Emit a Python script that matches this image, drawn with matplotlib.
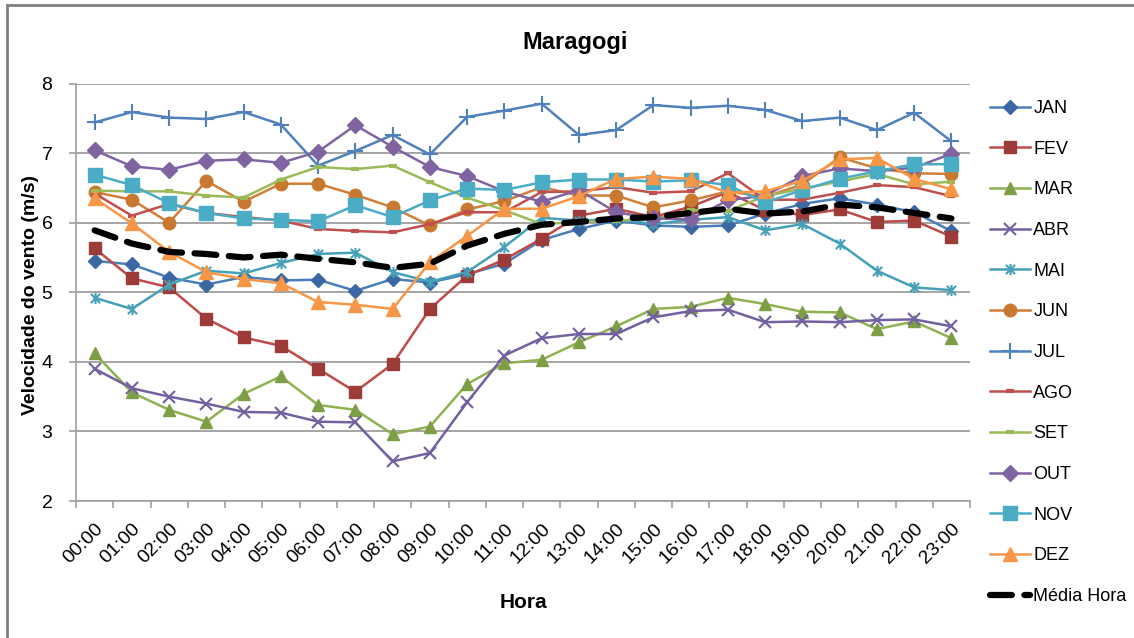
import matplotlib
matplotlib.use("Agg")
import matplotlib.pyplot as plt
from matplotlib.path import Path
from matplotlib.patches import Rectangle
from matplotlib import font_manager

hours = ["00:00", "01:00", "02:00", "03:00", "04:00", "05:00", "06:00", "07:00",
         "08:00", "09:00", "10:00", "11:00", "12:00", "13:00", "14:00", "15:00",
         "16:00", "17:00", "18:00", "19:00", "20:00", "21:00", "22:00", "23:00"]

jan = [5.45, 5.40, 5.21, 5.11, 5.22, 5.17, 5.18, 5.02, 5.19, 5.14, 5.26, 5.41,
       5.75, 5.91, 6.03, 5.96, 5.94, 5.96, 6.13, 6.27, 6.35, 6.26, 6.15, 5.88]
fev = [5.63, 5.20, 5.07, 4.62, 4.35, 4.23, 3.90, 3.57, 3.97, 4.76, 5.24, 5.47,
       5.77, 6.10, 6.20, 6.08, 6.23, 6.44, 6.18, 6.11, 6.19, 6.01, 6.03, 5.80]
mar = [4.12, 3.56, 3.31, 3.14, 3.54, 3.79, 3.38, 3.31, 2.96, 3.07, 3.68, 3.98,
       4.03, 4.28, 4.51, 4.76, 4.79, 4.92, 4.83, 4.72, 4.71, 4.47, 4.58, 4.34]
abr = [3.90, 3.62, 3.50, 3.40, 3.28, 3.27, 3.14, 3.13, 2.57, 2.69, 3.42, 4.09,
       4.34, 4.40, 4.40, 4.64, 4.73, 4.75, 4.57, 4.58, 4.57, 4.60, 4.61, 4.51]
mai = [4.92, 4.76, 5.11, 5.31, 5.27, 5.42, 5.55, 5.57, 5.29, 5.15, 5.29, 5.65,
       6.07, 6.03, 6.05, 5.98, 6.04, 6.08, 5.89, 5.98, 5.70, 5.31, 5.07, 5.03]
jun = [6.44, 6.33, 6.00, 6.60, 6.30, 6.56, 6.56, 6.40, 6.22, 5.96, 6.19, 6.31,
       6.51, 6.39, 6.39, 6.22, 6.32, 6.45, 6.37, 6.55, 6.94, 6.78, 6.71, 6.70]
jul = [7.44, 7.59, 7.51, 7.49, 7.59, 7.41, 6.82, 7.03, 7.26, 6.98, 7.52, 7.61,
       7.71, 7.26, 7.33, 7.69, 7.65, 7.68, 7.62, 7.46, 7.51, 7.33, 7.58, 7.17]
ago = [6.42, 6.10, 6.27, 6.14, 6.08, 6.03, 5.91, 5.88, 5.86, 5.98, 6.15, 6.15,
       6.44, 6.45, 6.51, 6.43, 6.45, 6.71, 6.33, 6.33, 6.43, 6.54, 6.51, 6.38]
set_ = [6.46, 6.45, 6.45, 6.39, 6.36, 6.62, 6.80, 6.77, 6.82, 6.58, 6.36, 6.18,
        5.98, 6.01, 6.03, 6.05, 6.18, 6.17, 6.38, 6.49, 6.59, 6.70, 6.55, 6.59]
out = [7.04, 6.81, 6.76, 6.89, 6.91, 6.86, 7.02, 7.40, 7.09, 6.80, 6.67, 6.45,
       6.30, 6.47, 6.15, 6.06, 6.05, 6.32, 6.39, 6.67, 6.78, 6.74, 6.79, 6.99]
nov = [6.69, 6.54, 6.28, 6.14, 6.06, 6.04, 6.02, 6.25, 6.08, 6.32, 6.49, 6.47,
       6.58, 6.62, 6.62, 6.59, 6.61, 6.54, 6.29, 6.47, 6.63, 6.74, 6.84, 6.84]
dez = [6.35, 5.99, 5.58, 5.29, 5.19, 5.13, 4.86, 4.82, 4.76, 5.43, 5.81, 6.20,
       6.20, 6.38, 6.63, 6.66, 6.63, 6.43, 6.45, 6.60, 6.91, 6.93, 6.63, 6.48]
media = [5.89, 5.70, 5.58, 5.55, 5.50, 5.54, 5.48, 5.43, 5.35, 5.41, 5.67, 5.84,
         5.97, 6.01, 6.06, 6.08, 6.14, 6.20, 6.13, 6.16, 6.26, 6.22, 6.14, 6.06]

labels = ["JAN", "FEV", "MAR", "ABR", "MAI", "JUN", "JUL", "AGO", "SET",
          "OUT", "NOV", "DEZ"]
series = [jan, fev, mar, abr, mai, jun, jul, ago, set_, out, nov, dez]

avail = {f.name for f in font_manager.fontManager.ttflist}
fam = "Liberation Sans Narrow" if "Liberation Sans Narrow" in avail else "Liberation Sans"
plt.rcParams['font.family'] = [fam, "DejaVu Sans"]

# asterisk marker (x with vertical bar)
star = Path([(-1, -1), (1, 1), (-1, 1), (1, -1), (0, -1.2), (0, 1.2)],
            [Path.MOVETO, Path.LINETO, Path.MOVETO, Path.LINETO, Path.MOVETO, Path.LINETO])

styles = [
    dict(color="#4A7EBB", marker="D", ms=7, mfc="#3B68A3", mec="#3B68A3"),
    dict(color="#BE4B48", marker="s", ms=9, mfc="#9C3B38", mec="#9C3B38"),
    dict(color="#8FB250", marker="^", ms=9, mfc="#7E9E45", mec="#7E9E45"),
    dict(color="#7260A0", marker="x", ms=8, mfc="none", mec="#7260A0", mew=1.5),
    dict(color="#45A0B8", marker=star, ms=8, mfc="none", mec="#45A0B8", mew=1.5),
    dict(color="#D07F38", marker="o", ms=9, mfc="#C9782F", mec="#C9782F"),
    dict(color="#4F81BD", marker="+", ms=11, mfc="none", mec="#4F81BD", mew=1.5),
    dict(color="#C0504D", marker="_", ms=6, mfc="#C0504D", mec="#C0504D", mew=3),
    dict(color="#9BBB59", marker="_", ms=6, mfc="#9BBB59", mec="#9BBB59", mew=3),
    dict(color="#8064A2", marker="D", ms=8, mfc="#8064A2", mec="#8064A2"),
    dict(color="#4BACC6", marker="s", ms=10, mfc="#4BACC6", mec="#4BACC6"),
    dict(color="#F79646", marker="^", ms=10, mfc="#F79646", mec="#F79646"),
]

fig = plt.figure(figsize=(11.34, 6.38), dpi=100)
ax = fig.add_axes([76 / 1134, 1 - 501 / 638, (970 - 76) / 1134, (501 - 83.5) / 638])

x = list(range(len(hours)))
for lab, ys, st in zip(labels, series, styles):
    ax.plot(x, ys, label=lab, lw=1.8, **st)
ax.plot(x, media, label="Média Hora", color="black", lw=4.5, ls=(0, (3.5, 2.0)),
        solid_capstyle="round", dash_capstyle="round")

ax.set_xlim(-0.5, 23.5)
ax.set_ylim(2, 8)
ax.set_yticks(range(2, 9))
ax.yaxis.grid(True, color="#969696", lw=1.2)
ax.set_axisbelow(True)
for s in ["top", "right"]:
    ax.spines[s].set_visible(False)
for s in ["left", "bottom"]:
    ax.spines[s].set_color("#A0A0A0")
    ax.spines[s].set_linewidth(1.2)

ax.set_xticks(x)
ax.set_xticklabels(hours, rotation=45, ha="right", va="top", rotation_mode="anchor",
                   fontsize=14)
ax.set_xticks([i - 0.5 for i in range(25)], minor=True)
ax.tick_params(axis="x", which="major", length=0, pad=14)
ax.tick_params(axis="x", which="minor", length=5, color="#A0A0A0", width=1.2)
ax.tick_params(axis="y", length=5, color="#A0A0A0", width=1.2, pad=12, labelsize=14)

fig.text(31 / 1134, 1 - 295 / 638, "Velocidade do vento (m/s)", rotation=90,
         ha="center", va="center", fontsize=14, fontweight="bold")
fig.text(523 / 1134, 1 - 602 / 638, "Hora", ha="center", va="center",
         fontsize=15, fontweight="bold")
fig.text(575 / 1134, 1 - 42 / 638, "Maragogi", ha="center", va="center",
         fontsize=17, fontweight="bold")

leg = fig.legend(loc="upper left", bbox_to_anchor=(990 / 1134, 1 - 100 / 638),
                 frameon=False, fontsize=13, handlelength=2.2, handletextpad=0.2,
                 labelspacing=1.31, borderaxespad=0, borderpad=0)

fig.patches.append(Rectangle((7 / 1134, -0.1), 1.2, 1 - 5 / 638 + 0.1,
                             transform=fig.transFigure, fill=False,
                             edgecolor="#808080", lw=2.0))

fig.savefig("out.png", dpi=100)
